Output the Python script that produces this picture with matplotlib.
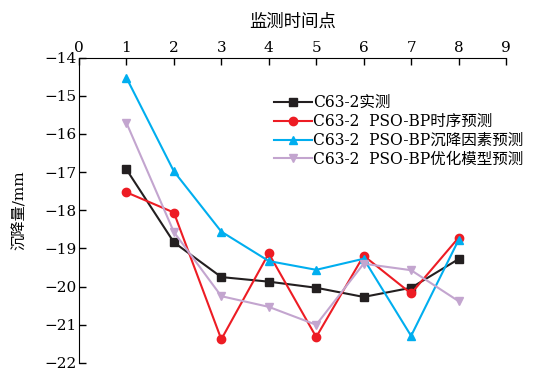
import matplotlib.pyplot as plt

plt.rcParams['font.family'] = ['DejaVu Serif', 'Noto Sans CJK SC']
plt.rcParams['axes.unicode_minus'] = True

t = [1, 2, 3, 4, 5, 6, 7, 8]
shice = [-16.93, -18.84, -19.75, -19.87, -20.03, -20.27, -20.03, -19.28]
shixu = [-17.53, -18.06, -21.38, -19.13, -21.32, -19.19, -20.18, -18.72]
yinsu = [-14.53, -16.98, -18.56, -19.33, -19.56, -19.27, -21.29, -18.78]
youhua = [-15.71, -18.57, -20.25, -20.53, -21.00, -19.40, -19.57, -20.38]

names = ['C63-2实测', 'C63-2  PSO-BP时序预测',
         'C63-2  PSO-BP沉降因素预测', 'C63-2  PSO-BP优化模型预测']

fig = plt.figure(figsize=(5.38, 3.72), dpi=100)
ax = fig.add_axes([0.1468, 0.0242, 0.7937, 0.8212])

ax.plot(t, shice, color='#231f20', marker='s', ms=6, lw=1.5, label=names[0])
ax.plot(t, shixu, color='#ed1c24', marker='o', ms=6, lw=1.5, label=names[1])
ax.plot(t, yinsu, color='#00aeef', marker='^', ms=6, lw=1.5, label=names[2])
ax.plot(t, youhua, color='#c3a5cf', marker='v', ms=6, lw=1.5, label=names[3])

ax.set_xlim(0, 9)
ax.set_ylim(-22, -14)
ax.set_xticks(range(0, 10))
ax.set_yticks(range(-22, -13))
ax.xaxis.tick_top()
ax.xaxis.set_label_position('top')
ax.spines['right'].set_visible(False)
ax.spines['bottom'].set_visible(False)
ax.tick_params(direction='in', length=5, width=1, labelsize=11, pad=2)
ax.set_xlabel('监测时间点', fontsize=12.5, labelpad=10)
ax.set_ylabel('沉降量/mm', fontsize=11)
ax.yaxis.set_label_coords(-0.122, 0.5)

ax.legend(loc='upper left', bbox_to_anchor=(0.443, 0.9), frameon=False,
          fontsize=11.2, handlelength=2.4, handletextpad=0.1, labelspacing=0.12,
          borderaxespad=0)

fig.savefig('out.png', dpi=100)
